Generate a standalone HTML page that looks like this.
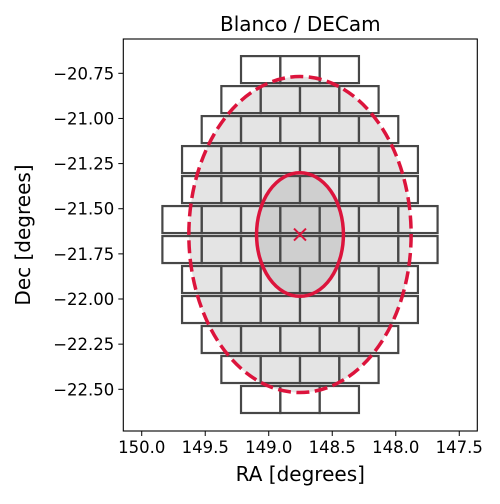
<!DOCTYPE html>
<html><head><meta charset="utf-8"><style>
body{margin:0;background:#fff;font-family:"DejaVu Sans","Liberation Sans",sans-serif}
svg text{font-family:"DejaVu Sans","Liberation Sans",sans-serif;fill:#000}
</style></head><body>
<svg id="c" width="500" height="500" viewBox="0 0 500 500">
<rect width="500" height="500" fill="#fff"/>
<g id="plot"></g>
</svg>
<script>
const rowCounts = [3,4,5,6,6,7,7,6,6,5,4,3];
const chipW = 0.3095;
const chipH = 0.1495;
const rowPitch = 0.1661;
const centerRA = 148.754;
const centerDec = -21.643;
const outerRadius = 0.875;
const innerRadius = 0.342;
const xTicks = [150.0,149.5,149.0,148.5,148.0,147.5];
const xTickLabels = ["150.0","149.5","149.0","148.5","148.0","147.5"];
const yTicks = [-20.75,-21.0,-21.25,-21.5,-21.75,-22.0,-22.25,-22.5];
const yTickLabels = ["\u221220.75","\u221221.00","\u221221.25","\u221221.50","\u221221.75","\u221222.00","\u221222.25","\u221222.50"];

const L=123.3,R=477.3,T=39,B=431;
const xMin=150.145,xMax=147.358,yMax=-20.56,yMin=-22.731;
const X=v=>L+(xMin-v)/(xMin-xMax)*(R-L);
const Y=v=>T+(yMax-v)/(yMax-yMin)*(B-T);
const NS="http://www.w3.org/2000/svg";
const g=document.getElementById('plot');
function mk(t,a,p){const e=document.createElementNS(NS,t);for(const k in a)e.setAttribute(k,a[k]);(p||g).appendChild(e);return e;}
const cx=X(centerRA),cy=Y(centerDec);
const pxDeg=Math.abs(Y(0)-Y(1));
const pxRA=Math.abs(X(0)-X(1));
let e=mk('ellipse',{cx:cx,cy:cy,rx:outerRadius*pxRA,ry:outerRadius*pxDeg,fill:'#e4e4e4'});


e=mk('ellipse',{cx:cx,cy:cy,rx:innerRadius*pxRA,ry:innerRadius*pxDeg,fill:'#cfcfcf'});


const nRows=rowCounts.length;
rowCounts.forEach((n,i)=>{
  const dec=centerDec+((nRows-1)/2-i)*rowPitch;
  for(let j=0;j<n;j++){
    const ra=centerRA+((n-1)/2-j)*chipW;
    const x0=X(ra+chipW/2),x1=X(ra-chipW/2),y0=Y(dec+chipH/2),y1=Y(dec-chipH/2);
    const r=mk('rect',{x:x0,y:y0,width:x1-x0,height:y1-y0,fill:'none',stroke:'#474747','stroke-width':2.2});
    
    
  }
});
e=mk('ellipse',{cx:cx,cy:cy,rx:outerRadius*pxRA,ry:outerRadius*pxDeg,fill:'none',stroke:'#dc143c','stroke-width':3.5,'stroke-dasharray':'13 5.5'});


e=mk('ellipse',{cx:cx,cy:cy,rx:innerRadius*pxRA,ry:innerRadius*pxDeg,fill:'none',stroke:'#dc143c','stroke-width':3.5});


e=mk('path',{d:`M${cx-6},${cy-6}L${cx+6},${cy+6}M${cx-6},${cy+6}L${cx+6},${cy-6}`,stroke:'#dc143c','stroke-width':2});


e=mk('rect',{x:L,y:T,width:R-L,height:B-T,fill:'none',stroke:'#000','stroke-width':1.1});


xTicks.forEach((v,i)=>{
  const x=X(v);
  const t=mk('line',{x1:x,x2:x,y1:B,y2:B+5,stroke:'#000','stroke-width':1});
  
  
  const tx=mk('text',{x:x,y:B+22,'text-anchor':'middle','font-size':'16.5'});
  tx.textContent=xTickLabels[i];
  
  
});
yTicks.forEach((v,i)=>{
  const y=Y(v);
  const t=mk('line',{x1:L-5,x2:L,y1:y,y2:y,stroke:'#000','stroke-width':1});
  
  
  const tx=mk('text',{x:L-9,y:y+6,'text-anchor':'end','font-size':'16.5'});
  tx.textContent=yTickLabels[i];
  
  
});
e=mk('text',{x:(L+R)/2,y:481,'text-anchor':'middle','font-size':'20'});
e.textContent='RA [degrees]';


e=mk('text',{x:0,y:0,'text-anchor':'middle','font-size':'20',transform:`translate(30,${(T+B)/2}) rotate(-90)`});
e.textContent='Dec [degrees]';


e=mk('text',{x:(L+R)/2,y:31,'text-anchor':'middle','font-size':'20'});
e.textContent='Blanco / DECam';


</script>
</body></html>
